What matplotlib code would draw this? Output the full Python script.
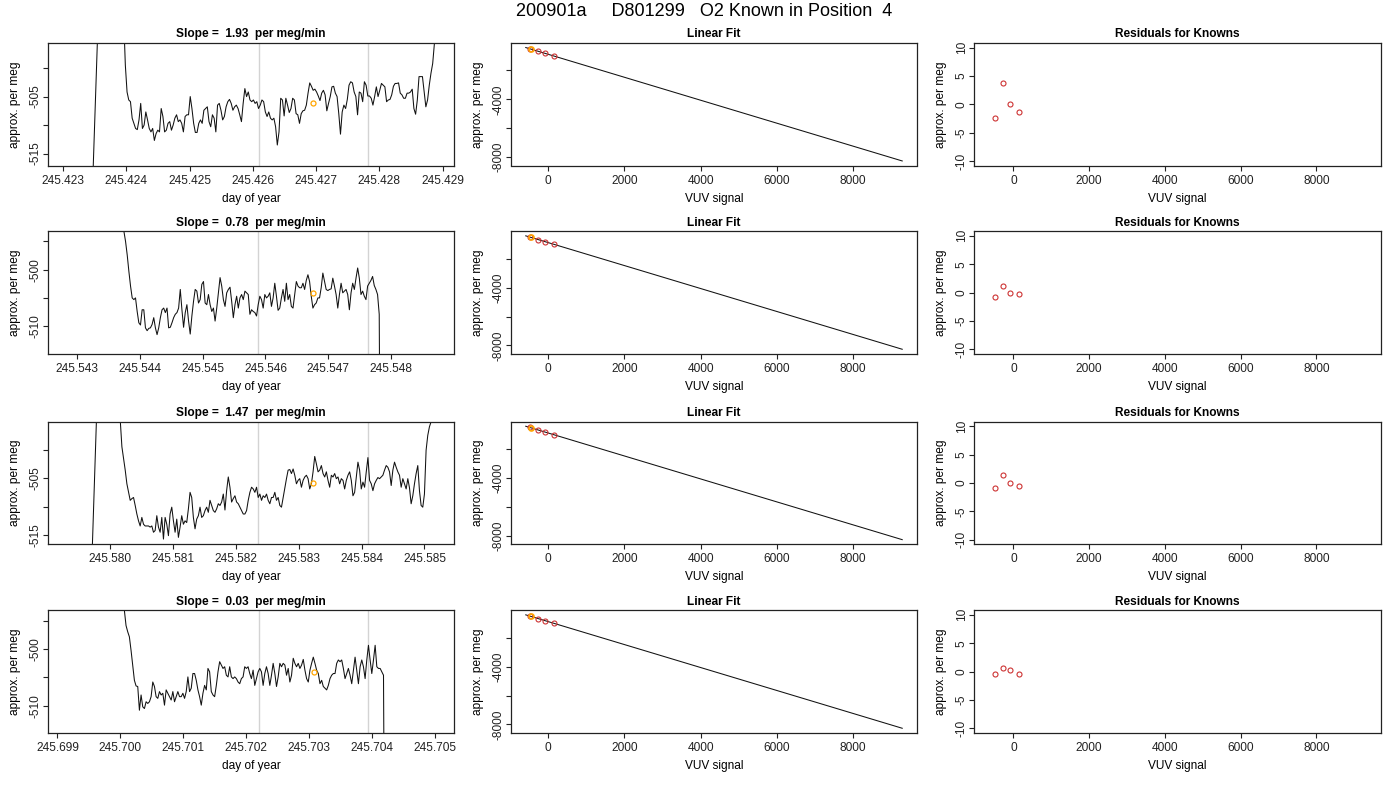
#!/usr/bin/env python3
"""
O2 known-tank diagnostics: drift traces, linear fit and residuals
for the four runs of a known in position 4.
"""
import matplotlib
matplotlib.use("Agg")
import matplotlib.pyplot as plt
import numpy as np

plt.rcParams['font.family'] = ['Liberation Sans', 'DejaVu Sans']

# =============================================================================
# Data
# =============================================================================

main_title = "200901a     D801299   O2 Known in Position  4"
slopes = ["1.93", "0.78", "1.47", "0.03"]

# time traces: start time (day of year), sample step (days), values (per meg)
p1_t0, p1_dt = 245.423011, 0.0000270
p1_vals = [
    -548, -551, -553, -552, -555, -554, -556, -555, -553, -552, -550, -549,
    -547, -545, -540, -532, -526, -519, -510, -501, -492,
    -470, -455, -448, -446, -447, -450, -455, -460, -466, -472, -477, -481,
    -485, -488, -491, -499.5,
    -504.2, -505.6, -505.9, -508.8, -509.7, -510.6, -510.8, -509.1, -506.2, -510.6,
    -510.0, -507.7, -509.1, -510.6, -511.2, -510.6, -512.7, -511.5, -510.9, -511.2,
    -507.1, -508.5, -511.2, -510.9, -509.7, -509.4, -510.9, -510.0, -508.8, -508.2,
    -509.4, -509.1, -509.7, -511.2, -508.5, -508.2, -508.2, -505.0, -507.1, -509.7,
    -511.3, -511.3, -509.7, -509.1, -509.7, -507.4, -507.1, -506.8, -509.4, -510.3,
    -508.2, -508.8, -511.2, -506.5, -506.2, -507.4, -509.1, -508.5, -506.8, -505.9,
    -505.5, -506.2, -507.4, -506.8, -506.5, -507.1, -508.2, -509.4, -506.2, -503.6,
    -505.0, -504.2, -505.6, -505.9, -505.6, -506.2, -505.9, -507.1, -506.5, -505.6,
    -505.9, -507.7, -508.5, -507.7, -508.8, -509.1, -508.8, -510.3, -513.5,
    -511.2, -505.3, -505.6, -508.4, -505.3, -506.5, -507.8, -507.1, -505.3, -505.6,
    -508.0, -508.2, -509.7, -508.0, -507.5, -507.4, -506.5, -504.4, -502.6, -503.2,
    -503.9, -503.7, -504.2, -504.9, -505.7, -504.4, -503.9, -504.7, -507.5, -506.2,
    -505.0, -503.3, -503.2, -504.4, -505.0, -508.0, -511.6, -507.7, -506.5, -507.1,
    -505.5, -503.0, -502.4, -502.6, -504.2, -505.0, -508.2, -504.2, -504.4, -505.9,
    -502.4, -503.0, -504.9, -504.9, -505.3, -506.5, -505.0, -503.3, -505.0, -503.9,
    -502.7, -503.0, -503.3, -505.9, -505.6, -505.5, -504.7, -503.2, -502.7, -502.7,
    -502.6, -504.4, -504.7, -505.3, -505.3, -504.4, -504.4, -504.2, -503.7, -507.1,
    -508.1, -505.6, -501.5, -501.5, -501.5, -504.2, -506.8, -505.6, -503.0, -500.9,
    -499.2, -495.7, -490, -484, -478, -470, -462,
]

p2_t0, p2_dt = 245.542798, 0.00002638
p2_vals = [
    -462, -458, -455, -452, -450, -449, -449, -450, -451, -452, -454, -456,
    -458, -460, -462, -464, -466, -468, -470, -472, -473, -475, -476, -478,
    -479, -480, -481, -482, -483, -484, -485, -486, -487, -488, -489, -490,
    -493.2, -495.0, -497.4, -500.3, -502.9, -505.0, -505.3, -505.0, -507.4, -509.4,
    -509.8, -507.1, -507.1, -510.3, -510.8, -510.4, -510.3, -509.7, -508.5, -510.3,
    -511.5, -510.3, -508.5, -507.1, -506.8, -507.6, -506.8, -510.3, -510.2, -509.4,
    -508.5, -507.9, -507.6, -506.8, -503.5, -507.1, -510.2, -507.6, -506.2, -509.1,
    -511.4, -508.2, -505.6, -503.5, -503.8, -505.9, -505.3, -502.6, -502.1, -505.9,
    -506.2, -504.4, -506.2, -507.4, -506.8, -509.1, -506.8, -504.1, -501.4, -502.9,
    -505.3, -506.5, -504.1, -503.5, -503.1, -505.6, -508.5, -506.2, -504.7, -506.8,
    -505.0, -504.4, -505.3, -503.8, -504.1, -504.4, -507.9, -507.1, -507.4, -507.6,
    -508.2, -506.2, -504.7, -505.3, -506.8, -504.4, -505.0, -504.7, -504.1, -506.5,
    -505.0, -502.4, -504.7, -507.2, -506.8, -505.0, -503.5, -505.6, -502.4, -505.3,
    -504.4, -506.5, -506.8, -504.4, -502.1, -502.9, -503.2, -503.2, -502.4, -503.5,
    -501.9, -500.9, -502.1, -504.7, -506.8, -506.2, -505.9, -505.0, -505.0, -503.2,
    -500.6, -502.1, -503.5, -503.7, -503.5, -503.4, -501.5, -502.9, -504.4, -506.8,
    -504.4, -502.4, -504.1, -503.8, -503.5, -504.4, -507.1, -504.1, -502.4, -503.5,
    -501.5, -499.7, -501.5, -504.4, -503.8, -504.7, -505.3, -502.9, -502.4, -501.9,
    -501.2, -502.8, -503.5, -504.4, -507.9,
    -560, -590, -600, -605, -608, -610, -611, -612, -612, -613, -613, -614,
    -614, -615, -615, -616, -616, -617, -617, -618, -618, -619, -619, -620,
    -620, -621, -621, -622, -622, -623, -623, -624,
]

p3_t0, p3_dt = 245.579260, 0.00002645
p3_vals = [
    -560, -562, -563, -561, -560, -558, -557, -556, -555, -553, -550, -548,
    -545, -540, -535, -530, -525, -519, -510, -501, -492,
    -470, -455, -447, -444, -444, -446, -450, -455, -462, -470, -477, -483,
    -488, -494.8,
    -499.5, -501.6, -503.6, -506.0, -507.5, -508.9, -508.6, -508.4, -509.8, -511.3,
    -512.5, -513.4, -511.9, -513.1, -513.4, -513.4, -513.4, -513.6, -513.4, -514.5,
    -514.2, -511.6, -513.6, -514.5, -511.9, -515.7, -511.9, -513.1, -515.1, -511.3,
    -510.1, -512.5, -514.5, -512.2, -515.4, -513.6, -511.6, -513.1, -512.5, -512.8,
    -510.4, -507.5, -508.4, -511.9, -513.9, -512.2, -511.6, -510.1, -511.9, -511.6,
    -510.7, -510.1, -511.0, -508.9, -509.8, -510.7, -511.0, -510.4, -509.5, -509.8,
    -509.2, -507.8, -510.6, -507.2, -504.8, -506.6, -509.2, -508.6, -508.1, -509.2,
    -509.5, -510.1, -510.7, -511.3, -511.3, -510.7, -508.9, -507.5, -506.6, -506.9,
    -507.5, -506.6, -508.4, -507.8, -508.9, -508.1, -508.4, -507.8, -508.9, -509.5,
    -508.4, -508.4, -507.5, -508.9, -508.4, -509.8, -510.1, -508.4, -506.6, -505.1,
    -503.6, -503.5, -504.2, -503.4, -504.5, -506.0, -505.4, -505.1, -506.6, -505.4,
    -504.8, -504.5, -505.1, -506.9, -506.0, -503.9, -501.2, -502.5, -503.9, -503.6,
    -502.8, -504.2, -504.8, -503.9, -505.4, -506.6, -504.5, -504.8, -504.2, -505.1,
    -504.8, -506.0, -505.1, -505.4, -506.9, -505.4, -504.5, -503.9, -505.4, -508.1,
    -507.5, -504.8, -502.2, -503.6, -506.9, -505.7, -506.6, -503.9, -501.4, -505.4,
    -506.0, -507.2, -506.0, -505.4, -504.9, -505.1, -504.8, -504.5, -503.6, -502.8,
    -503.1, -503.9, -506.3, -503.6, -502.2, -503.1, -503.9, -504.5, -506.6, -505.1,
    -506.0, -506.9, -505.1, -506.7, -509.5, -508.1, -506.0, -504.2, -502.8, -507.2,
    -509.8, -510.1, -507.8, -500.1, -497.5, -496.0, -495.1, -490, -484, -478,
]

p4_t0, p4_dt = 245.699107, 0.00002656
p4_vals = [
    -462, -458, -455, -452, -450, -449, -449, -450, -451, -452, -454, -456,
    -458, -460, -462, -464, -466, -468, -470, -472, -473, -475, -476, -478,
    -479, -480, -481, -482, -483, -484, -485, -486, -487, -488, -489, -490,
    -493.1, -495.8, -496.9, -497.8, -500.2, -502.8, -505.5, -506.5, -506.6, -510.8,
    -508.1, -510.2, -510.5, -509.3, -509.6, -509.3, -508.4, -505.8, -506.6, -508.4,
    -508.7, -507.5, -508.1, -507.8, -509.9, -507.2, -507.8, -508.4, -509.0, -507.5,
    -509.3, -508.4, -507.5, -508.4, -508.4, -507.8, -508.7, -507.5, -504.9, -507.5,
    -506.9, -504.3, -504.3, -505.5, -507.2, -508.4, -509.9, -507.8, -506.4, -507.2,
    -503.4, -504.0, -507.5, -508.1, -508.4, -506.4, -504.0, -502.2, -502.8, -503.4,
    -503.1, -504.6, -504.9, -503.1, -504.9, -505.2, -504.9, -505.2, -505.8, -506.1,
    -505.2, -504.9, -503.1, -503.4, -503.1, -504.3, -505.2, -503.7, -506.4, -505.2,
    -504.0, -503.4, -504.0, -506.4, -504.3, -503.1, -504.3, -506.4, -504.6, -502.5,
    -504.3, -506.6, -504.9, -502.5, -503.1, -502.5, -502.8, -504.6, -503.4, -505.8,
    -504.6, -501.6, -502.5, -503.1, -502.5, -503.4, -502.8, -501.8, -503.7, -505.2,
    -505.8, -503.7, -502.5, -501.4, -502.5, -503.7, -504.3, -506.1, -505.5, -506.6,
    -506.9, -507.2, -506.4, -505.2, -504.6, -504.3, -504.3, -502.5, -501.9, -502.2,
    -501.9, -503.4, -505.2, -504.3, -503.4, -504.6, -506.1, -503.7, -501.4, -503.7,
    -506.1, -503.1, -501.9, -503.1, -505.2, -501.9, -499.3, -501.9, -504.3, -501.9,
    -499.3, -503.1, -503.4, -503.4, -504.0, -504.6,
    -560, -590, -600, -605, -608, -610, -611, -612, -612, -613, -613, -614,
    -614, -615, -615, -616, -616, -617, -617, -618, -618, -619, -619, -620,
    -620, -621, -621, -622, -622, -623, -623, -624, -624,
]

# start / end of the averaging window (grey lines)
win_1 = [245.42609, 245.42782]
win_2 = [245.545885, 245.547626]
win_3 = [245.58235, 245.58410]
win_4 = [245.702195, 245.70394]

# mean of the known in each run (orange circle)
mean_t = [245.42695, 245.546755, 245.58323, 245.70307]
mean_v = [-506.2, -504.1, -505.8, -504.0]

# linear fit (VUV signal vs per meg)
fit_x = [-591, 9294]
fit_y = [-418, -8262]
knowns_x = [-484, -265, -87, 143]
knowns_y_1 = [-505, -673, -818, -1001]
knowns_y_2 = [-503, -676, -818, -1000]
knowns_y_3 = [-503, -676, -818, -1000]
knowns_y_4 = [-503, -677, -818, -1000]
unknown_x = [-455, -455, -455, -455]
unknown_y = [-520, -520, -520, -520]

# residuals for knowns
resid_1 = [-2.4, 3.8, 0.0, -1.4]
resid_2 = [-0.7, 1.1, 0.0, -0.3]
resid_3 = [-0.9, 1.4, 0.0, -0.5]
resid_4 = [-0.5, 0.7, 0.3, -0.5]

# =============================================================================
# Layout (pixel boxes measured on the 1400x800 reference)
# =============================================================================

W, H = 1400, 800
COL_L = [48, 510.7, 974.3]
COL_R = [454, 917.3, 1381]
ROW_T = [43, 231.3, 421.7, 610.3]
ROW_H = 122.5

FS = 8.6
RED = '#cd3333'
ORANGE = '#ffa500'


def make_axes(fig, row, col):
    l = COL_L[col]
    w = COL_R[col] - l
    b = ROW_T[row] + ROW_H
    ax = fig.add_axes([l / W, 1 - b / H, w / W, ROW_H / H])
    for s in ax.spines.values():
        s.set_color('#222222')
        s.set_linewidth(0.9)
    ax.tick_params(direction='out', length=3.6, width=0.8, labelsize=FS,
                   colors='#222222')
    ax.tick_params(axis='x', pad=3)
    ax.tick_params(axis='y', pad=1)
    return ax


def style_labels(ax, xlabel, ylabel, title):
    ax.set_title(title, fontsize=FS, fontweight='bold', pad=4)
    ax.set_xlabel(xlabel, fontsize=FS)
    ax.set_ylabel(ylabel, fontsize=FS)
    ax.xaxis.label.set_va('center')
    ax.yaxis.label.set_va('center')
    ax.xaxis.set_label_coords(0.5, -0.27)
    ax.yaxis.set_label_coords(-0.081, 0.5)


def set_yticks(ax, ticks, labels):
    ax.set_yticks(ticks)
    ax.set_yticklabels(labels, rotation=90, va='center')


# =============================================================================
# Panels
# =============================================================================

def draw_trace(ax, t0, dt, vals, win, mt, mv, xlim, ylim, xticks, yticks, ylabels, slope):
    t = t0 + dt * np.arange(len(vals))
    for w in win:
        ax.axvline(w, color='#d3d3d3', lw=1.0, zorder=1)
    ax.plot(t, vals, color='#111111', lw=0.75, zorder=2)
    ax.plot([mt], [mv], 'o', mfc='none', mec=ORANGE, ms=3.6, mew=0.9, zorder=3)
    ax.set_xlim(*xlim)
    ax.set_ylim(*ylim)
    ax.set_xticks(xticks)
    ax.set_xticklabels([f'{x:.3f}' for x in xticks])
    set_yticks(ax, yticks, ylabels)
    style_labels(ax, 'day of year', 'approx. per meg', f'Slope =  {slope}  per meg/min')


def draw_fit(ax, ky):
    ax.plot(fit_x, fit_y, color='#111111', lw=0.75)
    ax.plot(knowns_x, ky, 'o', mfc='none', mec=RED, ms=3.6, mew=0.8)
    ax.plot(unknown_x[:1], unknown_y[:1], 'o', mfc='none', mec=ORANGE, ms=3.6, mew=1.2)
    ax.set_xlim(-986, 9690)
    ax.set_ylim(-8576, -104)
    ax.set_xticks([0, 2000, 4000, 6000, 8000])
    ax.set_xticklabels(['0', '2000', '4000', '6000', '8000'])
    set_yticks(ax, [-2000, -4000, -6000, -8000], ['', '-4000', '', '-8000'])
    style_labels(ax, 'VUV signal', 'approx. per meg', 'Linear Fit')


def draw_resid(ax, res):
    ax.plot(knowns_x, res, 'o', mfc='none', mec=RED, ms=3.6, mew=0.8)
    ax.set_xlim(-1031, 9710)
    ax.set_ylim(-10.8, 10.8)
    ax.set_xticks([0, 2000, 4000, 6000, 8000])
    ax.set_xticklabels(['0', '2000', '4000', '6000', '8000'])
    set_yticks(ax, [-10, -5, 0, 5, 10], ['-10', '-5', '0', '5', '10'])
    style_labels(ax, 'VUV signal', 'approx. per meg', 'Residuals for Knowns')


def main():
    fig = plt.figure(figsize=(14, 8), dpi=100)
    fig.text(704.5 / W, 1 - 12 / H, main_title, ha='center', va='center', fontsize=13)

    traces = [
        (p1_t0, p1_dt, p1_vals, win_1, (245.42276, 245.42918), (-517.1, -495.6),
         [245.423, 245.424, 245.425, 245.426, 245.427, 245.428, 245.429],
         [-500, -505, -510, -515], ['', '-505', '', '-515']),
        (p2_t0, p2_dt, p2_vals, win_2, (245.54254, 245.54900), (-514.9, -493.2),
         [245.543, 245.544, 245.545, 245.546, 245.547, 245.548],
         [-495, -500, -505, -510], ['', '-500', '', '-510']),
        (p3_t0, p3_dt, p3_vals, win_3, (245.57901, 245.58547), (-516.6, -495.1),
         [245.580, 245.581, 245.582, 245.583, 245.584, 245.585],
         [-500, -505, -510, -515], ['', '-505', '', '-515']),
        (p4_t0, p4_dt, p4_vals, win_4, (245.69885, 245.70530), (-514.8, -493.1),
         [245.699, 245.700, 245.701, 245.702, 245.703, 245.704, 245.705],
         [-495, -500, -505, -510], ['', '-500', '', '-510']),
    ]
    knowns_y = [knowns_y_1, knowns_y_2, knowns_y_3, knowns_y_4]
    resids = [resid_1, resid_2, resid_3, resid_4]

    for r, (t0, dt, vals, win, xlim, ylim, xt, yt, yl) in enumerate(traces):
        ax = make_axes(fig, r, 0)
        draw_trace(ax, t0, dt, vals, win, mean_t[r], mean_v[r], xlim, ylim, xt, yt, yl, slopes[r])
        draw_fit(make_axes(fig, r, 1), knowns_y[r])
        draw_resid(make_axes(fig, r, 2), resids[r])

    plt.savefig('out.png', dpi=100)


if __name__ == "__main__":
    main()
